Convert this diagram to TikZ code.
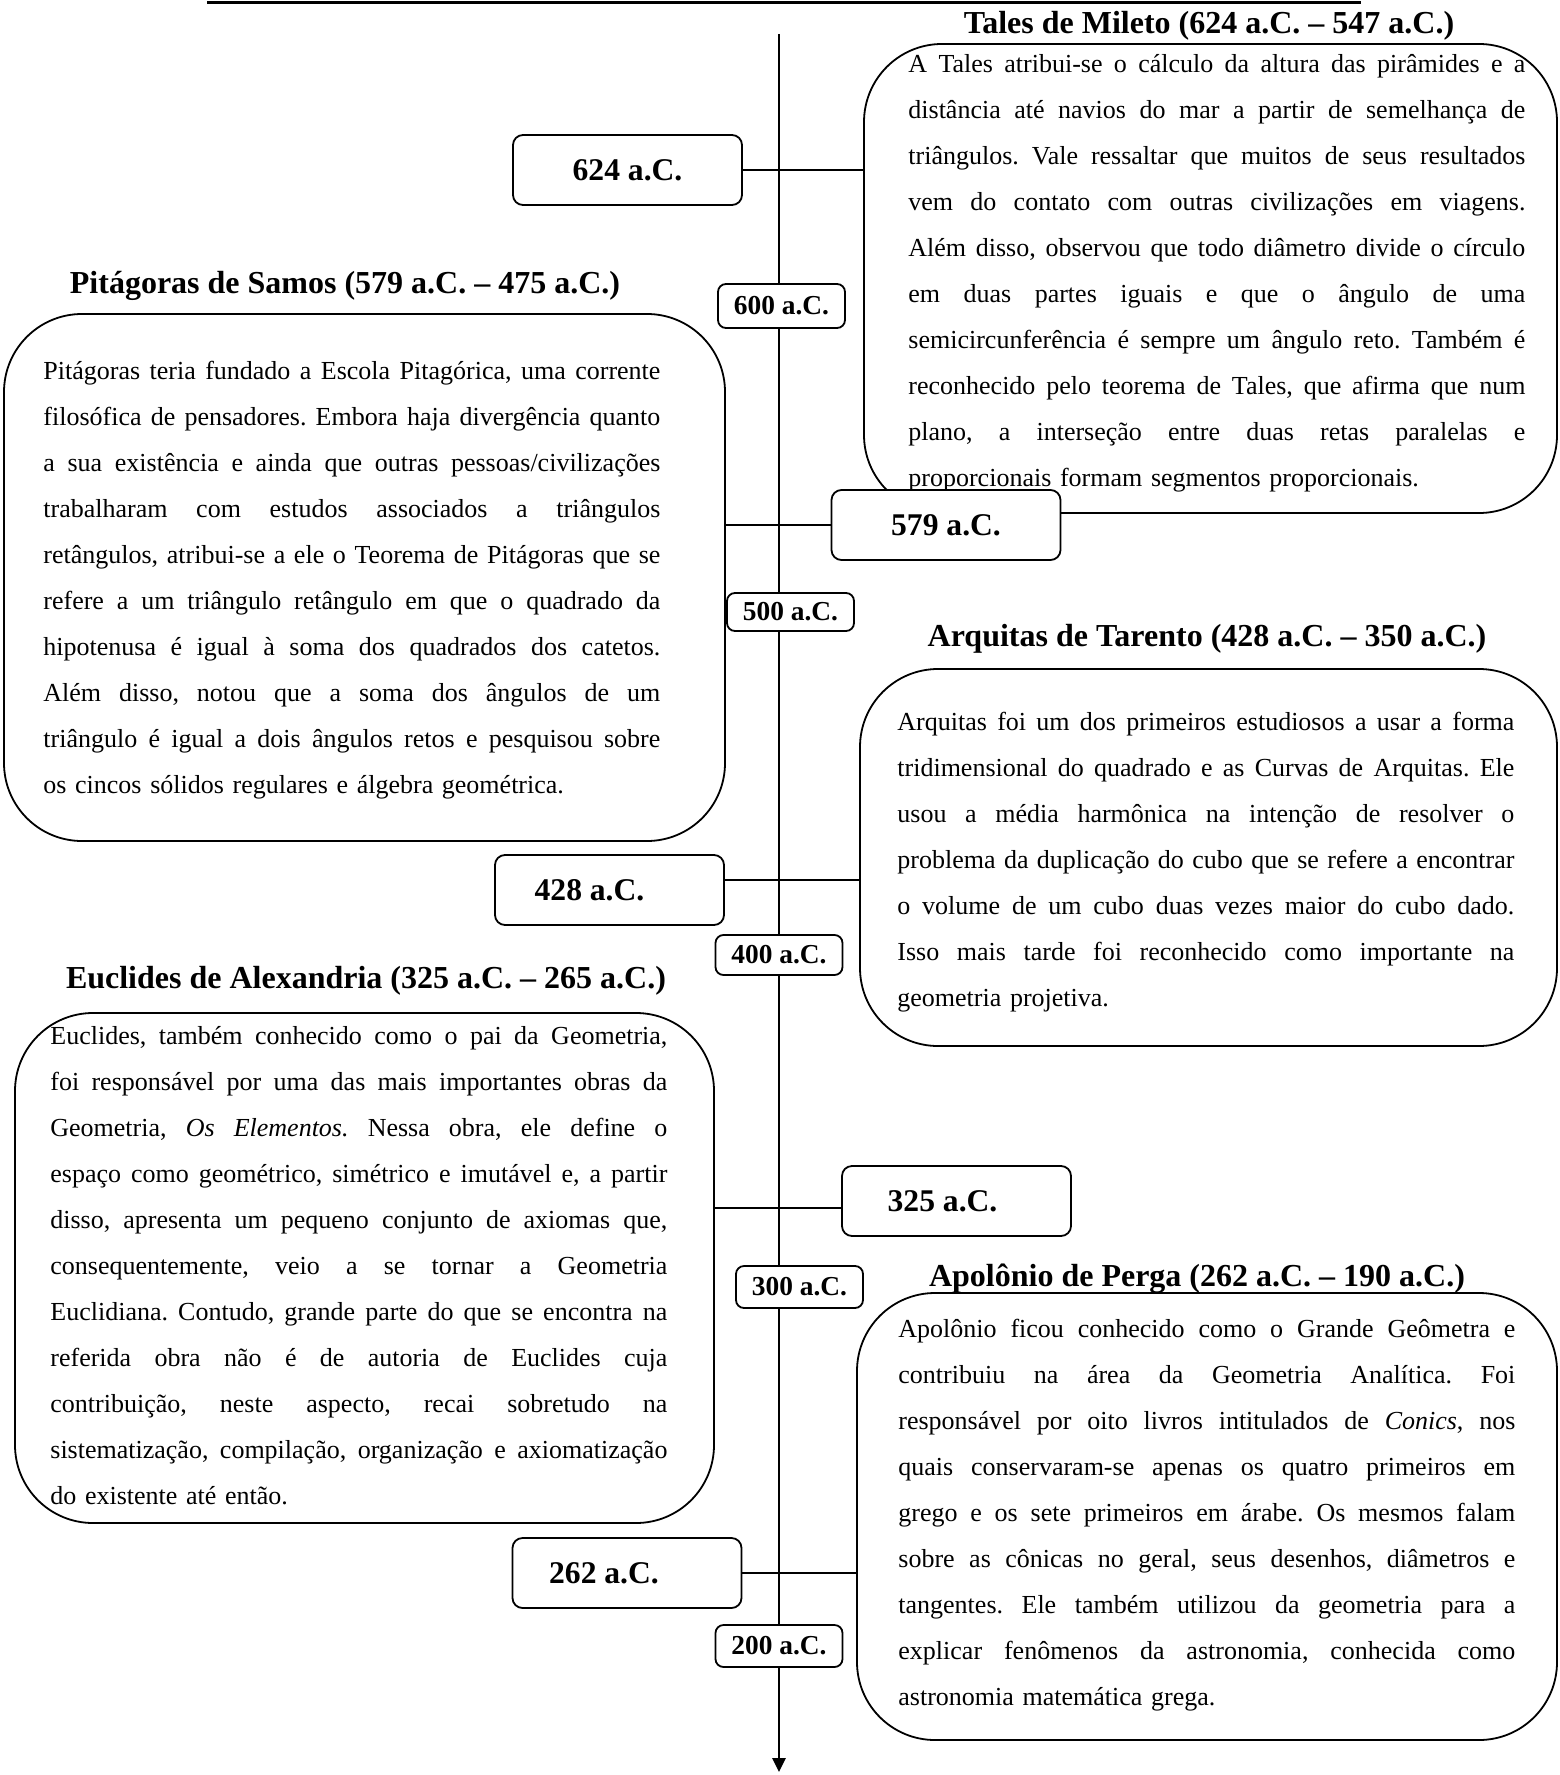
\documentclass[tikz,border=0pt]{standalone}
\usepackage{fontspec}
\setmainfont{Liberation Serif}
\usetikzlibrary{arrows.meta,fit}

% one justified line of a text block
\newcommand{\jl}[1]{\hbox to 308.5pt{\frenchspacing\spaceskip=3.25pt plus 6pt minus 1pt\relax\strut#1}}

\begin{document}
\begin{tikzpicture}[
        x=0.5pt, y=-0.5pt,
        bigbox/.style={draw, line width=0.9pt, rounded corners=39pt, inner sep=0pt, fill=white},
        datebox/.style={draw, line width=0.9pt, rounded corners=5pt, inner sep=0pt, fill=white, minimum width=114.5pt, minimum height=35pt, font=\fontsize{15.8}{18}\bfseries},
        tickbox/.style={draw, line width=0.9pt, rounded corners=4pt, inner sep=0pt, fill=white, minimum width=63.5pt, font=\fontsize{13.7}{16}\bfseries},
        title/.style={inner sep=0pt, font=\fontsize{16}{18}\bfseries},
        body/.style={anchor=north west, text width=308.5pt, inner sep=0pt, font=\fontsize{13}{23}\selectfont},
        link/.style={line width=0.75pt}
    ]

    \useasboundingbox (0,0) rectangle (1559,1775);

    % Axis
    \coordinate (rulel) at (207,3);
    \coordinate (ruler) at (1361,3);
    \coordinate (axtop) at (779,34);
    \coordinate (axbot) at (779,1772);
    \draw[line width=1.5pt] (rulel) -- (ruler);
    \draw[line width=1.4pt, -{Triangle[length=7pt,width=6.5pt]}] (axtop) -- (axbot);

    % Boxes
    \node[bigbox, fit={(864,44) (1557,513)}] (tales) {};
    \node[bigbox, fit={(4,314) (725,841)}] (pit) {};
    \node[bigbox, fit={(860,669) (1557,1046)}] (arq) {};
    \node[bigbox, fit={(15,1013) (714,1523)}] (euc) {};
    \node[bigbox, fit={(857,1293) (1557,1740)}] (apo) {};

    % Titles
    \node[title] (talestit) at (1209,25.5) {Tales de Mileto (624 a.C. – 547 a.C.)};
    \node[title] (pittit) at (345,285.5) {Pitágoras de Samos (579 a.C. – 475 a.C.)};
    \node[title] (arqtit) at (1207,638.5) {Arquitas de Tarento (428 a.C. – 350 a.C.)};
    \node[title] (euctit) at (366,980.5) {Euclides de Alexandria (325 a.C. – 265 a.C.)};
    \node[title] (apotit) at (1197,1278.5) {Apolônio de Perga (262 a.C. – 190 a.C.)};

    % Texts
    \node[body] (talestxt) at (908,40) {%
        \jl{A Tales atribui-se o cálculo da altura das pirâmides e a}
        \jl{distância até navios do mar a partir de semelhança de}
        \jl{triângulos. Vale ressaltar que muitos de seus resultados}
        \jl{vem do contato com outras civilizações em viagens.}
        \jl{Além disso, observou que todo diâmetro divide o círculo}
        \jl{em duas partes iguais e que o ângulo de uma}
        \jl{semicircunferência é sempre um ângulo reto. Também é}
        \jl{reconhecido pelo teorema de Tales, que afirma que num}
        \jl{plano, a interseção entre duas retas paralelas e}
        \hbox{\strut proporcionais formam segmentos proporcionais.}};

    \node[body] (pittxt) at (43,347) {%
        \jl{Pitágoras teria fundado a Escola Pitagórica, uma corrente}
        \jl{filosófica de pensadores. Embora haja divergência quanto}
        \jl{a sua existência e ainda que outras pessoas/civilizações}
        \jl{trabalharam com estudos associados a triângulos}
        \jl{retângulos, atribui-se a ele o Teorema de Pitágoras que se}
        \jl{refere a um triângulo retângulo em que o quadrado da}
        \jl{hipotenusa é igual à soma dos quadrados dos catetos.}
        \jl{Além disso, notou que a soma dos ângulos de um}
        \jl{triângulo é igual a dois ângulos retos e pesquisou sobre}
        \hbox{\strut os cincos sólidos regulares e álgebra geométrica.}};

    \node[body] (arqtxt) at (897,698) {%
        \jl{Arquitas foi um dos primeiros estudiosos a usar a forma}
        \jl{tridimensional do quadrado e as Curvas de Arquitas. Ele}
        \jl{usou a média harmônica na intenção de resolver o}
        \jl{problema da duplicação do cubo que se refere a encontrar}
        \jl{o volume de um cubo duas vezes maior do cubo dado.}
        \jl{Isso mais tarde foi reconhecido como importante na}
        \hbox{\strut geometria projetiva.}};

    \node[body] (euctxt) at (50,1012) {%
        \jl{Euclides, também conhecido como o pai da Geometria,}
        \jl{foi responsável por uma das mais importantes obras da}
        \jl{Geometria, \textit{Os Elementos.} Nessa obra, ele define o}
        \jl{espaço como geométrico, simétrico e imutável e, a partir}
        \jl{disso, apresenta um pequeno conjunto de axiomas que,}
        \jl{consequentemente, veio a se tornar a Geometria}
        \jl{Euclidiana. Contudo, grande parte do que se encontra na}
        \jl{referida obra não é de autoria de Euclides cuja}
        \jl{contribuição, neste aspecto, recai sobretudo na}
        \jl{sistematização, compilação, organização e axiomatização}
        \hbox{\strut do existente até então.}};

    \node[body] (apotxt) at (898,1305) {%
        \jl{Apolônio ficou conhecido como o Grande Geômetra e}
        \jl{contribuiu na área da Geometria Analítica. Foi}
        \jl{responsável por oito livros intitulados de \textit{Conics}, nos}
        \jl{quais conservaram-se apenas os quatro primeiros em}
        \jl{grego e os sete primeiros em árabe. Os mesmos falam}
        \jl{sobre as cônicas no geral, seus desenhos, diâmetros e}
        \jl{tangentes. Ele também utilizou da geometria para a}
        \jl{explicar fenômenos da astronomia, conhecida como}
        \hbox{\strut astronomia matemática grega.}};

    % Dates
    \node[datebox] (d624) at (627.5,170) {624 a.C.};
    \node[datebox] (d579) at (946,525) {579 a.C.};
    \node[datebox] (d428) at (609.5,890) {\hspace*{-20pt}428 a.C.};
    \node[datebox] (d325) at (956.5,1201) {\hspace*{-14pt}325 a.C.};
    \node[datebox] (d262) at (627,1573) {\hspace*{-23pt}262 a.C.};

    % Edges
    \draw[link] (d624) -- (d624 -| tales.west);
    \draw[link] (pit.east |- d579) -- (d579);
    \draw[link] ([yshift=5pt]d428.east) -- ([yshift=5pt]d428.east -| arq.west);
    \draw[link] ([yshift=-3.5pt]d325.west -| euc.east) -- ([yshift=-3.5pt]d325.west);
    \draw[link] (d262) -- (d262 -| apo.west);

    % Ticks
    \node[tickbox, minimum height=22pt] (t600) at (781.5,306) {600 a.C.};
    \node[tickbox, minimum height=19pt] (t500) at (790.5,612) {500 a.C.};
    \node[tickbox, minimum height=20pt] (t400) at (779,955) {400 a.C.};
    \node[tickbox, minimum height=21pt] (t300) at (799.5,1287) {300 a.C.};
    \node[tickbox, minimum height=21pt] (t200) at (779,1646) {200 a.C.};

\end{tikzpicture}
\end{document}
